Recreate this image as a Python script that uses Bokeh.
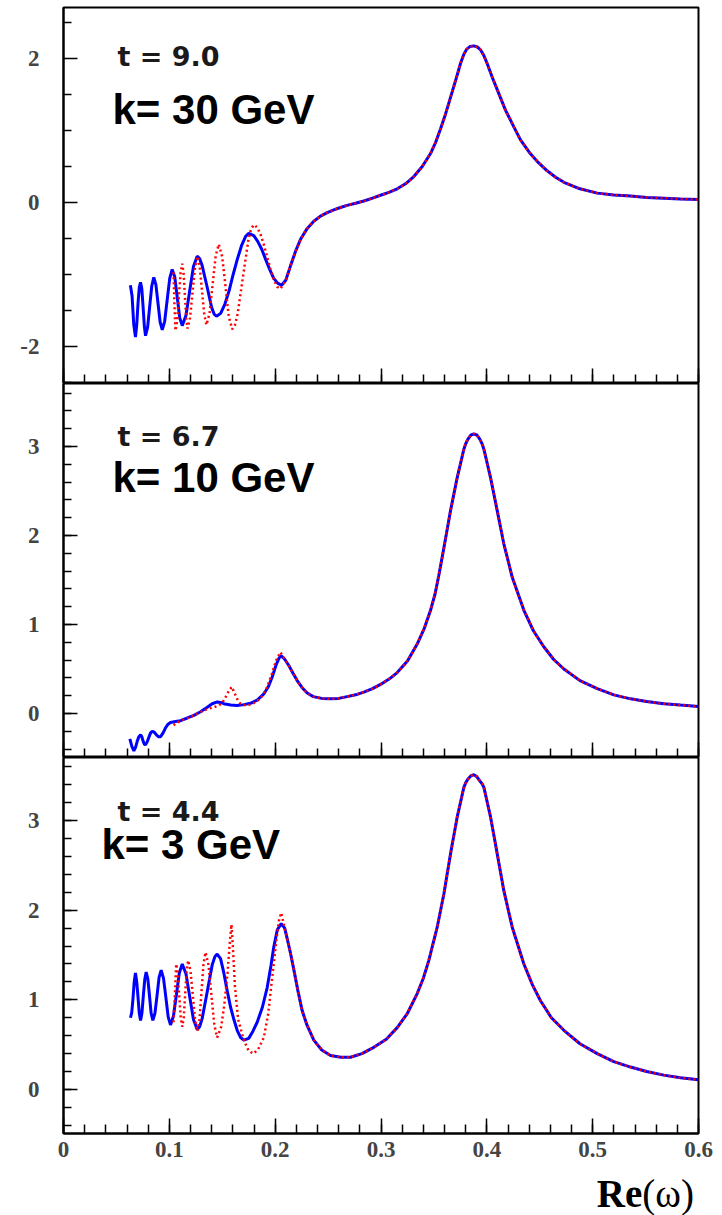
from bokeh.plotting import figure
from bokeh.layouts import column
from bokeh.models import Range1d, FixedTicker, Label, Div
from bokeh.embed import file_html
from bokeh.resources import INLINE

# ---------------- data ----------------
# Panel 1: t = 9.0, k = 30 GeV
top_blue_x = [.0632,.0648,.0664,.0680,.0692,.0704,.0716,.0728,.0740,.0752,.0764,.0775,.0795,.0814,.0834,.0853,
              .0873,.0893,.0913,.0933,.0956,.0980,.1004,.1027,.1051,.1075,.1098,.1122,.1157,.1192,.1228,.1263,
              .1286,.1309,.1355,.1400,.1423,.1446,.1485,.1525,.1564,.1603,.1642,.1682,.1721,.1750,.1798,.1835,
              .1873,.1910,.1948,.1985,.2023,.2060]
top_blue_y = [-1.15,-1.30,-1.70,-1.87,-1.70,-1.40,-1.18,-1.11,-1.20,-1.45,-1.72,-1.85,-1.73,-1.45,-1.16,-1.04,
              -1.14,-1.40,-1.66,-1.77,-1.65,-1.35,-1.05,-0.93,-1.03,-1.32,-1.60,-1.71,-1.57,-1.23,-0.89,-0.745,
              -0.78,-0.87,-1.16,-1.46,-1.55,-1.58,-1.54,-1.41,-1.23,-1.00,-0.79,-0.60,-0.47,-0.43,-0.46,-0.54,
              -0.65,-0.79,-0.93,-1.05,-1.12,-1.15]
top_red_x = [.1039,.1048,.1058,.1074,.1090,.1106,.1122,.1135,.1147,.1160,.1172,.1196,.1219,.1243,.1266,.1287,
             .1309,.1330,.1351,.1380,.1409,.1438,.1467,.1499,.1531,.1562,.1594,.1620,.1645,.1696,.1747,.1772,
             .1798,.1830,.1861,.1893,.1924,.1956,.1987,.2019,.2050]
top_red_y = [-0.97,-1.40,-1.78,-1.65,-1.31,-0.98,-0.85,-0.99,-1.30,-1.61,-1.75,-1.60,-1.25,-0.90,-0.75,-0.89,
             -1.23,-1.56,-1.70,-1.54,-1.14,-0.74,-0.58,-0.75,-1.17,-1.59,-1.76,-1.70,-1.55,-1.03,-0.52,-0.37,
             -0.31,-0.345,-0.44,-0.585,-0.755,-0.925,-1.07,-1.17,-1.20]
top_common_x = [.2100,.2145,.2192,.2240,.2303,.2365,.2428,.2492,.2560,.2617,.2680,.2760,.2838,.2920,.2995,.3075,
                .3153,.3232,.3310,.3390,.3468,.3515,.3562,.3610,.3657,.3704,.3751,.3783,.3810,.3840,.3877,.3910,
                .3940,.3972,.4003,.4051,.4100,.4177,.4255,.4318,.4410,.4490,.4570,.4650,.4728,.4880,.5043,.5200,
                .5358,.5510,.5670,.5830,.6000]
top_common_y = [-1.08,-0.88,-0.68,-0.51,-0.36,-0.26,-0.19,-0.14,-0.10,-0.07,-0.04,-0.01,0.02,0.06,0.10,0.14,
                0.19,0.26,0.36,0.50,0.68,0.83,1.02,1.23,1.46,1.69,1.93,2.06,2.13,2.165,2.175,2.16,
                2.12,2.04,1.93,1.74,1.56,1.28,1.05,0.87,0.68,0.55,0.44,0.35,0.28,0.19,0.13,0.105,
                0.09,0.07,0.06,0.05,0.04]

# Panel 2: t = 6.7, k = 10 GeV
mid_blue_x = [.0627,.0646,.0665,.0681,.0697,.0712,.0728,.0740,.0752,.0764,.0775,.0790,.0806,.0822,.0838,.0858,
              .0878,.0897,.0917,.0940,.0964,.0988,.1011,.1058,.1106,.1170,.1232,.1295,.1358,.1405,.1452,.1485,
              .1515,.1580,.1640,.1705,.1767,.1830,.1893,.1935,.1972,.2010,.2035,.2055]
mid_blue_y = [-0.285,-0.37,-0.42,-0.38,-0.31,-0.26,-0.24,-0.26,-0.31,-0.345,-0.35,-0.32,-0.27,-0.22,-0.20,-0.21,
              -0.24,-0.26,-0.26,-0.22,-0.16,-0.12,-0.10,-0.09,-0.08,-0.05,-0.02,0.02,0.07,0.11,0.13,0.125,
              0.11,0.095,0.09,0.10,0.115,0.15,0.22,0.30,0.41,0.55,0.62,0.65]
mid_red_x = [.1040,.1058,.1100,.1150,.1200,.1250,.1300,.1358,.1420,.1468,.1500,.1530,.1560,.1590,.1620,.1650,
             .1672,.1705,.1736,.1783,.1830,.1880,.1925,.1970,.2010,.2050]
mid_red_y = [-0.13,-0.115,-0.085,-0.06,-0.04,-0.01,0.02,0.05,0.07,0.09,0.12,0.18,0.25,0.30,0.22,0.14,
             0.11,0.095,0.09,0.11,0.14,0.20,0.30,0.45,0.60,0.69]
mid_common_x = [.2090,.2129,.2170,.2208,.2255,.2303,.2360,.2440,.2523,.2600,.2680,.2760,.2838,.2920,.3000,.3080,
                .3153,.3250,.3342,.3410,.3468,.3510,.3546,.3594,.3657,.3720,.3783,.3800,.3820,.3850,.3877,.3905,
                .3935,.3955,.3972,.4035,.4098,.4160,.4240,.4350,.4440,.4538,.4630,.4728,.4880,.5043,.5200,.5358,
                .5510,.5672,.5830,.6000]
mid_common_y = [0.61,0.54,0.45,0.37,0.29,0.23,0.19,0.17,0.165,0.17,0.19,0.21,0.24,0.28,0.33,0.39,
                0.46,0.59,0.78,0.96,1.16,1.34,1.55,1.86,2.28,2.65,2.97,3.03,3.08,3.13,3.14,3.13,
                3.08,3.03,2.97,2.65,2.28,1.91,1.53,1.16,0.93,0.75,0.61,0.50,0.37,0.28,0.21,0.165,
                0.135,0.11,0.095,0.08]

# Panel 3: t = 4.4, k = 3 GeV
bot_blue_x = [.0633,.0645,.0657,.0668,.0680,.0692,.0704,.0716,.0728,.0741,.0754,.0768,.0781,.0797,.0813,.0828,
              .0844,.0864,.0884,.0903,.0923,.0945,.0967,.0989,.1011,.1039,.1067,.1094,.1122,.1157,.1192,.1228,
              .1263,.1286,.1310,.1358,.1405,.1430,.1452,.1484,.1515,.1547,.1578,.1610,.1641,.1673,.1704,.1750,
              .1790,.1830,.1880,.1925,.1960,.1987,.2020,.2057]
bot_blue_y = [0.80,0.86,1.02,1.20,1.30,1.20,1.03,0.85,0.77,0.85,1.04,1.23,1.31,1.23,1.04,0.85,
              0.77,0.85,1.05,1.25,1.33,1.24,1.03,0.81,0.72,0.82,1.06,1.30,1.40,1.29,1.04,0.78,
              0.67,0.70,0.79,1.09,1.39,1.48,1.51,1.46,1.30,1.10,0.92,0.78,0.66,0.58,0.55,0.57,
              0.65,0.75,0.92,1.14,1.38,1.59,1.78,1.85]
bot_red_x = [.1039,.1052,.1065,.1079,.1093,.1108,.1122,.1136,.1150,.1164,.1178,.1200,.1222,.1244,.1266,.1285,
             .1304,.1323,.1342,.1370,.1397,.1425,.1452,.1490,.1520,.1550,.1570,.1587,.1600,.1620,.1650,.1704,
             .1750,.1795,.1840,.1893,.1935,.1972,.2010,.2035,.2057]
bot_red_y = [0.75,1.05,1.40,1.30,1.05,0.80,0.70,0.80,1.07,1.34,1.44,1.32,1.05,0.77,0.65,0.78,
             1.09,1.40,1.53,1.39,1.06,0.72,0.58,0.70,0.95,1.30,1.62,1.84,1.60,1.15,0.78,0.55,
             0.43,0.40,0.45,0.58,0.85,1.25,1.65,1.88,1.97]
bot_common_x = [.2090,.2114,.2145,.2176,.2215,.2255,.2300,.2365,.2440,.2523,.2620,.2712,.2820,.2932,.3050,.3153,
                .3250,.3342,.3400,.3452,.3531,.3594,.3657,.3720,.3783,.3800,.3820,.3850,.3877,.3905,.3935,.3955,
                .3972,.4035,.4098,.4160,.4240,.4350,.4430,.4507,.4610,.4728,.4880,.5043,.5200,.5358,.5510,.5672,
                .5830,.6000]
bot_common_y = [1.80,1.68,1.52,1.34,1.10,0.88,0.72,0.55,0.44,0.38,0.36,0.36,0.40,0.47,0.56,0.69,
                0.85,1.07,1.24,1.44,1.81,2.18,2.63,3.04,3.37,3.42,3.46,3.50,3.51,3.49,3.44,3.41,
                3.37,3.04,2.63,2.22,1.81,1.40,1.17,0.99,0.80,0.66,0.51,0.40,0.31,0.25,0.20,0.16,
                0.13,0.108]

# ticks
x_major = [0.0, 0.1, 0.2, 0.3, 0.4, 0.5, 0.6]
x_minor = [round(0.02 * i, 2) for i in range(31)]
top_y_major = [-2, 0, 2]
top_y_minor = [-2.5, -1.5, -1.0, -0.5, 0.5, 1.0, 1.5, 2.5]
low_y_major = [0, 1, 2, 3]
low_y_minor = [round(-0.4 + 0.2 * i, 1) for i in range(21)]
x_tick_labels = {0.0: "0", 0.1: "0.1", 0.2: "0.2", 0.3: "0.3", 0.4: "0.4", 0.5: "0.5", 0.6: "0.6"}
top_y_labels = {-2: "-2", 0: "0", 2: "2"}

panel_texts = [("t = 9.0", "k= 30 GeV"), ("t = 6.7", "k= 10 GeV"), ("t = 4.4", "k= 3 GeV")]
x_title_bold = "Re"
x_title_rest = "(ω)"

TICK_FONT = "Liberation Serif"


def make_panel(height, yrange, ymaj, ymin, btop, bbottom, show_x):
    p = figure(width=722, height=height, x_range=Range1d(0, 0.6), y_range=Range1d(*yrange),
               output_backend="svg", toolbar_location=None,
               min_border_left=63, min_border_right=24, min_border_top=btop, min_border_bottom=bbottom)
    p.grid.visible = False
    p.outline_line_color = "black"
    p.outline_line_width = 2
    p.background_fill_color = "white"
    p.border_fill_color = "white"

    xa = p.xaxis[0]
    xa.ticker = FixedTicker(ticks=x_major, minor_ticks=x_minor)
    xa.major_tick_in = 15
    xa.major_tick_out = 0
    xa.minor_tick_in = 9
    xa.minor_tick_out = 0
    xa.axis_line_width = 2
    xa.major_tick_line_width = 1.5
    xa.minor_tick_line_width = 1.5
    xa.major_label_text_font = TICK_FONT
    xa.major_label_text_font_style = "bold"
    if show_x:
        xa.major_label_overrides = dict(x_tick_labels)
        xa.major_label_text_font_size = "23px"
        xa.major_label_standoff = 8
    else:
        xa.major_label_overrides = {k: "" for k in x_tick_labels}
        xa.major_label_text_font_size = "0px"
        xa.major_label_standoff = 0

    ya = p.yaxis[0]
    ya.ticker = FixedTicker(ticks=ymaj, minor_ticks=ymin)
    ya.major_tick_in = 14
    ya.major_tick_out = 0
    ya.minor_tick_in = 8
    ya.minor_tick_out = 0
    ya.axis_line_width = 2
    ya.major_tick_line_width = 1.5
    ya.minor_tick_line_width = 1.5
    ya.major_label_text_font = TICK_FONT
    ya.major_label_text_font_style = "bold"
    ya.major_label_text_font_size = "23px"
    ya.major_label_standoff = 24
    return p


p1 = make_panel(383, (-2.514, 2.708), top_y_major, top_y_minor, 7, 0, False)
p2 = make_panel(374, (-0.494, 3.708), low_y_major, low_y_minor, 0, 0, False)
p3 = make_panel(412, (-0.491, 3.703), low_y_major, low_y_minor, 0, 36, True)
p1.yaxis[0].major_label_overrides = top_y_labels

panels = [
    (p1, top_blue_x, top_blue_y, top_red_x, top_red_y, top_common_x, top_common_y),
    (p2, mid_blue_x, mid_blue_y, mid_red_x, mid_red_y, mid_common_x, mid_common_y),
    (p3, bot_blue_x, bot_blue_y, bot_red_x, bot_red_y, bot_common_x, bot_common_y),
]
for p, bx, by, rx, ry, cx, cy in panels:
    p.line(bx + cx, by + cy, line_color="#0000ff", line_width=3)
    p.line(rx + cx, ry + cy, line_color="#ff0000", line_width=2.5, line_dash="2 3")

# annotation positions (data units of each panel)
text_pos = [((0.051, 2.03), (0.0463, 1.29)),
            ((0.051, 3.11), (0.0463, 2.65)),
            ((0.051, 3.10), (0.0359, 2.73))]
for p, (t_txt, k_txt), ((tx, ty), (kx, ky)) in zip([p1, p2, p3], panel_texts, text_pos):
    p.add_layout(Label(x=tx, y=ty, text=t_txt, text_font="DejaVu Sans", text_font_style="bold",
                       text_font_size="27px", text_color="#1a1a1a", text_baseline="alphabetic"))
    p.add_layout(Label(x=kx, y=ky, text=k_txt, text_font="Liberation Sans", text_font_style="bold",
                       text_font_size="42px", text_color="black", text_baseline="alphabetic"))

# x-axis title "Re(ω)" below the bottom panel
title_div = Div(
    text=('<div style="width:694px;text-align:right;font-family:\'Liberation Serif\';'
          'font-size:39px;line-height:39px;padding-top:5px;color:black;white-space:nowrap;">'
          '<b>%s</b>%s</div>' % (x_title_bold, x_title_rest)),
    width=722, height=46, margin=0)

layout = column(p1, p2, p3, title_div, spacing=0)
open("out.html", "w").write(file_html(layout, INLINE))
